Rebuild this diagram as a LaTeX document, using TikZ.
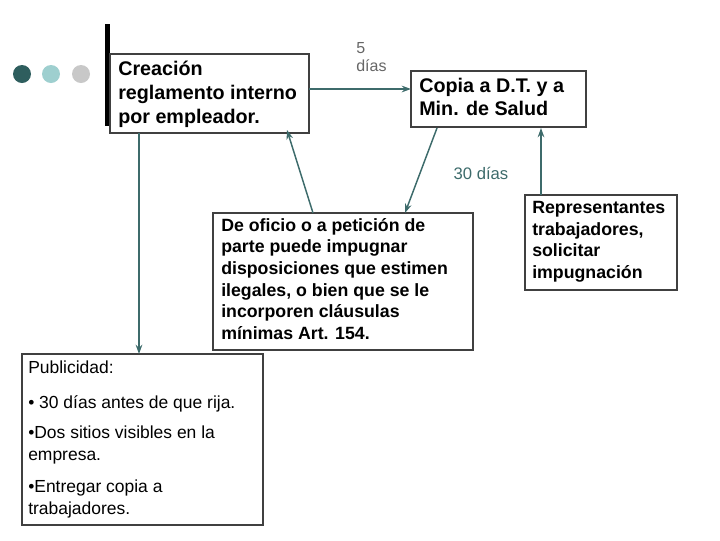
\documentclass[tikz,border=0pt]{standalone}
\usepackage{fontspec}
\setmainfont{Liberation Sans}
\usetikzlibrary{arrows.meta}
\definecolor{arr}{HTML}{3D6B6B}
\definecolor{dteal}{HTML}{2E5E5E}
\definecolor{lteal}{HTML}{9ECFCF}
\definecolor{lgray}{HTML}{C8C8C8}
\tikzset{box/.style={draw=black!75,line width=0.8pt,fill=white},
 conn/.style={draw=arr,line width=1.1pt,-{Stealth[length=7pt,width=5pt]}},
 txt/.style={anchor=north west,align=left,inner sep=0pt}}
\begin{document}
\begin{tikzpicture}[x=0.75pt,y=-0.75pt]
\useasboundingbox (0,0) rectangle (720,540);
\fill[dteal] (22,74) circle (9);
\fill[lteal] (51,74) circle (9);
\fill[lgray] (81,74) circle (9);
\fill[black] (105,24) rectangle (110,126);
\draw[box] (110,54) rectangle (309,133);
\node[txt,font=\bfseries\fontsize{14.8}{18}\selectfont] (t1) at (118,61) {Creación\\reglamento interno\\por empleador.};
\draw[box] (411,71) rectangle (586,127);
\node[txt,font=\bfseries\fontsize{14.8}{17.5}\selectfont] (t2) at (419,78) {Copia a D.T. y a\\Min. de Salud};
\draw[box] (213,213) rectangle (473,350);
\node[txt,font=\bfseries\fontsize{13.3}{16.2}\selectfont] (t3) at (221,218) {De oficio o a petición de\\parte puede impugnar\\disposiciones que estimen\\ilegales, o bien que se le\\incorporen cláusulas\\mínimas Art. 154.};
\draw[box] (525,195) rectangle (677,290);
\node[txt,font=\bfseries\fontsize{13.3}{16.2}\selectfont] (t4) at (532,201) {Representantes\\trabajadores,\\solicitar\\impugnación};
\draw[box] (22,354) rectangle (263,525);
\node[txt,font=\fontsize{13.1}{16.5}\selectfont] (p1) at (28,361) {Publicidad:};
\node[txt,font=\fontsize{13.1}{16.5}\selectfont] (p2) at (28,395) {• 30 días antes de que rija.};
\node[txt,font=\fontsize{13.1}{16.5}\selectfont] (p3) at (28,426) {•Dos sitios visibles en la\\empresa.};
\node[txt,font=\fontsize{13.1}{16.5}\selectfont] (p4) at (28,480) {•Entregar copia a\\trabajadores.};
\coordinate (c1) at (309,89); \coordinate (c2) at (411,89);
\coordinate (c3) at (437,128); \coordinate (c4) at (405,213);
\coordinate (c5) at (313,213); \coordinate (c6) at (287,130);
\coordinate (c7) at (541,195); \coordinate (c8) at (541,128);
\coordinate (c9) at (139,133); \coordinate (c10) at (139,354);
\draw[conn] (c1) -- (c2);
\draw[conn] (c3) -- (c4);
\draw[conn] (c5) -- (c6);
\draw[conn] (c7) -- (c8);
\draw[conn] (c9) -- (c10);
\node[txt,align=left,text=black!60,font=\fontsize{12}{14}\selectfont] (l1) at (356,42) {5\\días};
\node[text=arr,font=\fontsize{12.5}{14}\selectfont] (l2) at (481,173) {30 días};
\end{tikzpicture}
\end{document}
